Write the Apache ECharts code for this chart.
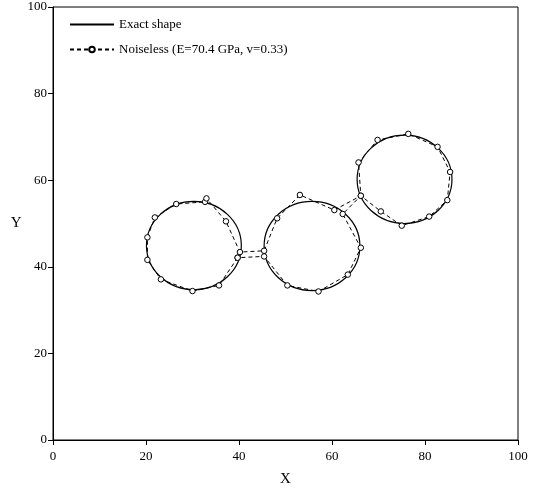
<!DOCTYPE html>
<html><head><meta charset="utf-8">
<script src="https://cdn.jsdelivr.net/npm/echarts@6/dist/echarts.min.js"></script>
<style>html,body{margin:0;padding:0;background:#fff}#c{width:538px;height:492px}</style>
</head><body><div id="c"></div>
<script>
// Axis ticks
const xTicks = [0, 20, 40, 60, 80, 100];
const yTicks = [0, 20, 40, 60, 80, 100];
// Exact shape: three circles (centre x, centre y, radius)
const circleCX = [30.3, 55.7, 75.6];
const circleCY = [44.9, 44.8, 60.2];
const circleR  = [10.2, 10.3, 10.2];
// Noiseless reconstruction: boundary vertices in order
const noiseX = [39.7, 35.7, 30.0, 23.2, 20.3, 20.3, 21.9, 26.5, 32.7, 33.0, 37.2, 40.2,
                45.4, 48.2, 53.1, 60.5, 66.2, 65.7, 69.8, 76.4, 82.7, 85.4, 84.8, 80.9, 75.0, 70.5, 66.2,
                62.3, 66.2, 63.4, 57.1, 50.4, 45.4, 39.7];
const noiseY = [42.1, 35.7, 34.4, 37.1, 41.6, 46.8, 51.4, 54.5, 55.0, 55.8, 50.5, 43.4,
                43.7, 51.2, 56.6, 53.1, 56.4, 64.1, 69.3, 70.7, 67.7, 61.9, 55.4, 51.6, 49.5, 52.8, 56.4,
                52.2, 44.4, 38.2, 34.3, 35.7, 42.4, 42.1];

const serif = 'Liberation Serif';
const chart = echarts.init(document.getElementById('c'), null, {renderer: 'canvas'});
const axisCommon = {
  type: 'value', min: 0, max: 100, interval: 20,
  axisLine: {show: true, onZero: false, lineStyle: {color: '#000', width: 1}},
  axisTick: {show: true, inside: false, length: 5, lineStyle: {color: '#000'}},
  axisLabel: {color: '#000', fontFamily: serif, fontSize: 13},
  splitLine: {show: false},
  nameTextStyle: {color: '#000', fontFamily: serif, fontSize: 15}
};
chart.setOption({
  animation: false,
  backgroundColor: '#fff',
  grid: {left: 53, right: 20, top: 7, bottom: 50, show: true, borderColor: '#000', borderWidth: 1, containLabel: false},
  legend: {
    left: 64, top: 13, orient: 'vertical', itemWidth: 44, itemHeight: 7, itemGap: 12,
    textStyle: {color: '#000', fontFamily: serif, fontSize: 13},
    data: [
      {name: 'Exact shape', itemStyle: {opacity: 0}},
      {name: 'Noiseless (E=70.4 GPa, v=0.33)'}
    ]
  },
  xAxis: Object.assign({}, axisCommon, {
    name: 'X', nameLocation: 'middle', nameGap: 32,
    axisLabel: Object.assign({}, axisCommon.axisLabel, {margin: 10, formatter: v => xTicks.includes(v) ? String(v) : ''})
  }),
  yAxis: Object.assign({}, axisCommon, {
    name: 'Y', nameLocation: 'middle', nameGap: 28, nameRotate: 0,
    axisLabel: Object.assign({}, axisCommon.axisLabel, {margin: 6, formatter: v => yTicks.includes(v) ? String(v) : ''})
  }),
  series: [
    {
      type: 'line', name: 'Exact shape', data: [], symbol: 'none',
      lineStyle: {color: '#000', width: 1.2}, itemStyle: {color: '#000'}
    },
    {
      type: 'custom', name: 'Exact shape', silent: true, z: 3,
      data: circleCX.map((cx, i) => [cx, circleCY[i], circleR[i]]),
      encode: {x: 0, y: 1},
      renderItem: function (params, api) {
        const c = api.coord([api.value(0), api.value(1)]);
        const s = api.size([api.value(2), api.value(2)]);
        return {type: 'ellipse', shape: {cx: c[0], cy: c[1], rx: s[0], ry: s[1]},
                style: {fill: 'none', stroke: '#000', lineWidth: 1.2}};
      }
    },
    {
      type: 'line', name: 'Noiseless (E=70.4 GPa, v=0.33)', z: 4,
      data: noiseX.map((x, i) => [x, noiseY[i]]),
      symbol: 'circle', symbolSize: 5.5, showAllSymbol: true,
      lineStyle: {color: '#000', width: 1, type: [4, 3]},
      itemStyle: {color: '#fff', borderColor: '#000', borderWidth: 1}
    }
  ]
});
</script></body></html>
